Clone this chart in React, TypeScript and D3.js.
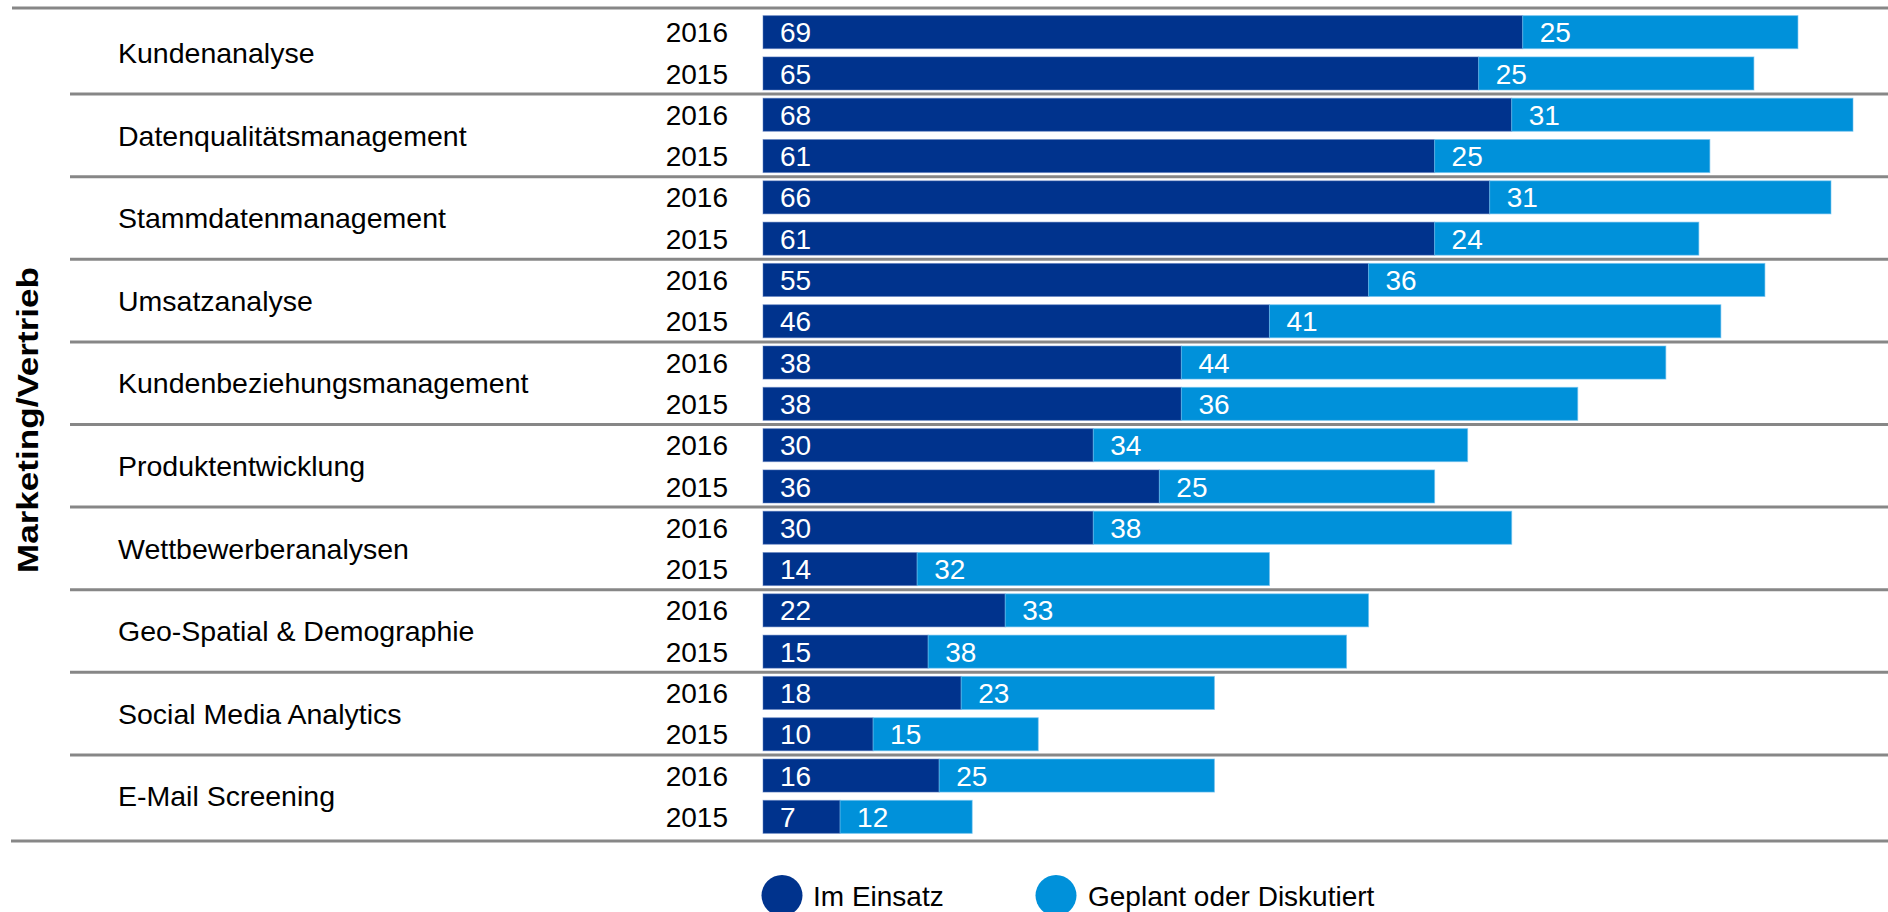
import React from "react";
import * as d3 from "d3";

const categories = [
  "Kundenanalyse",
  "Datenqualitätsmanagement",
  "Stammdatenmanagement",
  "Umsatzanalyse",
  "Kundenbeziehungsmanagement",
  "Produktentwicklung",
  "Wettbewerberanalysen",
  "Geo-Spatial & Demographie",
  "Social Media Analytics",
  "E-Mail Screening",
];
const years = ["2016", "2015"];
const imEinsatz2016 = [69, 68, 66, 55, 38, 30, 30, 22, 18, 16];
const geplant2016 = [25, 31, 31, 36, 44, 34, 38, 33, 23, 25];
const imEinsatz2015 = [65, 61, 61, 46, 38, 36, 14, 15, 10, 7];
const geplant2015 = [25, 25, 24, 41, 36, 25, 32, 38, 15, 12];
const seriesNames = ["Im Einsatz", "Geplant oder Diskutiert"];
const sideLabel = "Marketing/Vertrieb";

const DARK = "#00338D";
const LIGHT = "#0091DA";
const FONT = "'Liberation Sans', Arial, Helvetica, sans-serif";

export default function App() {
  const W = 1888;
  const H = 912;
  const rows = categories.flatMap((c, i) => [
    { key: `${i}-2016`, cat: i, year: years[0], a: imEinsatz2016[i], b: geplant2016[i] },
    { key: `${i}-2015`, cat: i, year: years[1], a: imEinsatz2015[i], b: geplant2015[i] },
  ]);
  const y = d3
    .scaleBand<string>()
    .domain(rows.map((r) => r.key))
    .range([11.5, 837.5])
    .paddingInner(0.2)
    .paddingOuter(0.1);
  const x = d3.scaleLinear().domain([0, 100]).range([763, 1864]);
  const bw = y.bandwidth();

  const sepYs = categories.slice(1).map((_, i) => {
    const prev = y(`${i}-2015`)! + bw;
    const next = y(`${i + 1}-2016`)!;
    return (prev + next) / 2;
  });

  return (
    <svg
      width={W}
      height={H}
      style={{ position: "absolute", left: 0, top: 0, background: "#fff" }}
      fontFamily={FONT}
    >
      <line x1={12} x2={W} y1={8} y2={8} stroke="#878787" strokeWidth={3} />
      <line x1={11} x2={W} y1={841} y2={841} stroke="#878787" strokeWidth={3} />
      {sepYs.map((sy, i) => (
        <line key={i} x1={70} x2={W} y1={sy} y2={sy} stroke="#878787" strokeWidth={3} />
      ))}

      {categories.map((c, i) => {
        const cy = (y(`${i}-2016`)! + y(`${i}-2015`)! + bw) / 2;
        return (
          <text key={c} x={118} y={cy} dy="0.36em" fontSize={28.5} fill="#000">
            {c}
          </text>
        );
      })}

      {rows.map((r) => {
        const top = y(r.key)!;
        const cy = top + bw / 2;
        return (
          <g key={r.key}>
            <text x={728} y={cy} dy="0.36em" fontSize={28} textAnchor="end" fill="#000">
              {r.year}
            </text>
            <rect
              x={x(0)}
              y={top}
              width={x(r.a) - x(0)}
              height={bw}
              fill={DARK}
              stroke="#5a7cc0"
              strokeOpacity={0.5}
              strokeWidth={1}
            />
            <rect
              x={x(r.a)}
              y={top}
              width={x(r.a + r.b) - x(r.a)}
              height={bw}
              fill={LIGHT}
              stroke="#6cc0ee"
              strokeOpacity={0.6}
              strokeWidth={1}
            />
            <text x={x(0) + 17} y={cy} dy="0.36em" fontSize={28} fill="#fff">
              {r.a}
            </text>
            <text x={x(r.a) + 17} y={cy} dy="0.36em" fontSize={28} fill="#fff">
              {r.b}
            </text>
          </g>
        );
      })}

      <text
        transform="translate(38, 420) rotate(-90)"
        textAnchor="middle"
        fontSize={30}
        fontWeight="bold"
        textLength={306}
        lengthAdjust="spacingAndGlyphs"
        fill="#000"
      >
        {sideLabel}
      </text>

      <circle cx={782} cy={895.5} r={20.5} fill={DARK} />
      <text x={813} y={906} fontSize={28} fill="#000">
        {seriesNames[0]}
      </text>
      <circle cx={1056} cy={895.5} r={20.5} fill={LIGHT} />
      <text x={1088} y={906} fontSize={28} fill="#000">
        {seriesNames[1]}
      </text>
    </svg>
  );
}
